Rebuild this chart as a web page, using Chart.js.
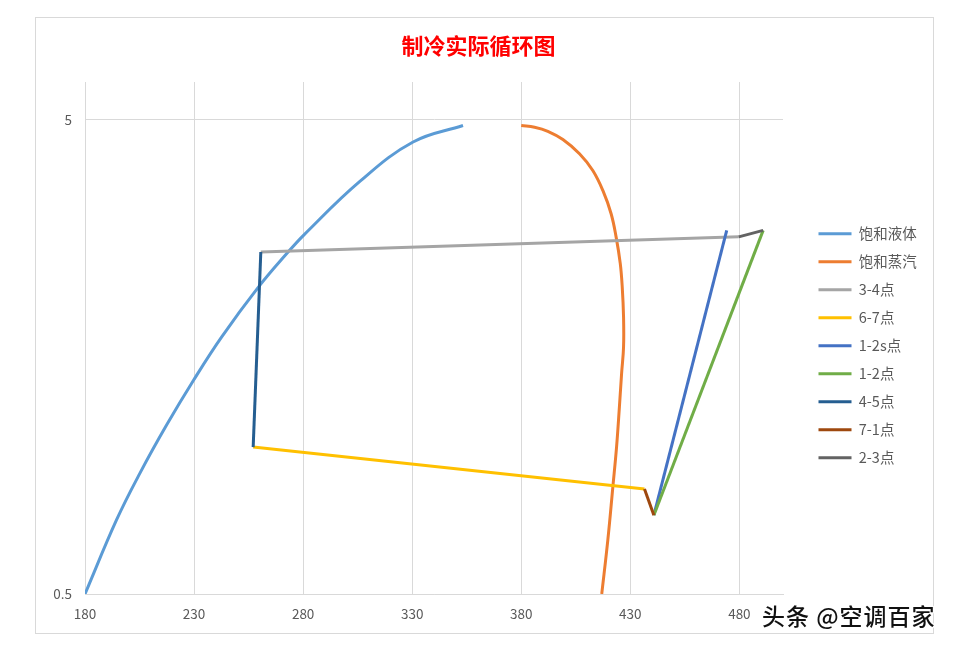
<!DOCTYPE html>
<html>
<head>
<meta charset="utf-8">
<script src="https://cdn.jsdelivr.net/npm/chart.js@4.4.0/dist/chart.umd.min.js"></script>
<style>
  html, body { margin: 0; padding: 0; background: #fff; }
  #wrap { position: relative; width: 957px; height: 647px; }
  #frame { position: absolute; left: 35px; top: 17px; width: 897px; height: 615px; border: 1px solid #d9d9d9; }
  #wm { position: absolute; left: 762px; top: 598px; font: 500 23px "Noto Sans CJK SC", sans-serif; letter-spacing: 1px; color: #111;
        text-shadow: 1px 1px 0 #fff, -1px -1px 0 #fff, 1px -1px 0 #fff, -1px 1px 0 #fff; }
</style>
</head>
<body>
<div id="wrap">
  <div id="frame"></div>
  <canvas id="grafico" width="957" height="647"></canvas>
  <div id="wm">头条 @空调百家</div>
</div>
<script>
// 数据（横轴 h，纵轴 p，对数）
const xTicks = [180, 230, 280, 330, 380, 430, 480];
const yTicks = [0.5, 5];

const liqX = [180, 194.5, 205.2, 217.4, 229.9, 242.6, 259.4, 273.1, 280.4, 306.0, 330.4, 353.3];
const liqY = [0.5, 0.717, 0.899, 1.135, 1.414, 1.739, 2.214, 2.628, 2.858, 3.704, 4.483, 4.857];

const vapX = [380.0, 386.1, 392.2, 399.1, 406.7, 412.8, 417.4, 421.2, 423.5, 425.4, 426.3, 426.9, 426.9, 426.0, 425.0, 423.7, 422.0, 419.7, 416.9];
const vapY = [4.857, 4.817, 4.724, 4.538, 4.235, 3.905, 3.545, 3.166, 2.826, 2.485, 2.218, 1.918, 1.658, 1.457, 1.240, 1.021, 0.841, 0.650, 0.5];

// 循环各点
const p1 = [440.8, 0.733];
const p2s = [474.2, 2.92];
const p2 = [490.9, 2.92];
const p3 = [479.7, 2.83];
const p4 = [260.6, 2.63];
const p5 = [257.1, 1.02];
const p7 = [436.5, 0.832];

const nombres = ['饱和液体', '饱和蒸汽', '3-4点', '6-7点', '1-2s点', '1-2点', '4-5点', '7-1点', '2-3点'];
const colores = ['#5B9BD5', '#ED7D31', '#A5A5A5', '#FFC000', '#4472C4', '#70AD47', '#255E91', '#9E480E', '#636363'];

const pares = (xs, ys) => xs.map((x, i) => ({ x: x, y: ys[i] }));
const seg = (a, b) => [{ x: a[0], y: a[1] }, { x: b[0], y: b[1] }];

const series = [
  pares(liqX, liqY),
  pares(vapX, vapY),
  seg(p3, p4),
  seg(p5, p7),
  seg(p1, p2s),
  seg(p1, p2),
  seg(p4, p5),
  seg(p7, p1),
  seg(p2, p3)
];

const datasets = series.map((d, i) => ({
  label: nombres[i],
  data: d,
  borderColor: colores[i],
  backgroundColor: colores[i],
  borderWidth: 3,
  pointRadius: 0,
  tension: i < 2 ? 0.4 : 0,
  yAxisID: 'y',
  order: series.length - i
}));

// coloca la leyenda a mano
const colocarLeyenda = {
  id: 'colocarLeyenda',
  afterLayout(chart) {
    const lg = chart.legend;
    lg.left = 805;
    lg.top = 213;
    lg.right = lg.left + lg.width;
    lg.bottom = 630;
  }
};

const ctx = document.getElementById('grafico').getContext('2d');

new Chart(ctx, {
  type: 'line',
  data: { datasets: datasets },
  plugins: [colocarLeyenda],
  options: {
    responsive: false,
    animation: false,
    layout: { padding: 0 },
    plugins: {
      title: {
        display: true,
        text: '制冷实际循环图',
        color: '#FF0000',
        font: { family: '"Noto Sans CJK SC", sans-serif', size: 22, weight: 'bold' },
        padding: { top: 32, bottom: 23.6 }
      },
      legend: {
        position: 'chartArea',
        align: 'start',
        reverse: true,
        labels: {
          usePointStyle: true,
          pointStyle: 'line',
          pointStyleWidth: 33,
          color: '#595959',
          padding: 13.5,
          font: { family: '"Noto Sans CJK SC", sans-serif', size: 14.5 }
        }
      },
      tooltip: { enabled: false }
    },
    scales: {
      x: {
        type: 'linear',
        min: 180,
        max: 500,
        afterBuildTicks: s => { s.ticks = xTicks.map(v => ({ value: v })); },
        afterFit: s => { s.height = 53; },
        grid: { color: '#d9d9d9', drawTicks: false },
        border: { color: '#d9d9d9' },
        ticks: {
          color: '#595959',
          padding: 12,
          maxRotation: 0,
          autoSkip: false,
          font: { family: '"Noto Sans CJK SC", sans-serif', size: 13.5 }
        }
      },
      y: {
        type: 'logarithmic',
        position: 'left',
        min: 0.5,
        max: 6,
        afterBuildTicks: s => { s.ticks = yTicks.map(v => ({ value: v })); },
        afterFit: s => { s.width = 85; },
        grid: { color: '#d9d9d9', drawTicks: false },
        border: { color: '#d9d9d9' },
        ticks: {
          color: '#595959',
          padding: 13,
          callback: v => String(v),
          font: { family: '"Noto Sans CJK SC", sans-serif', size: 13.5 }
        }
      },
      y2: {
        type: 'linear',
        position: 'right',
        afterFit: s => { s.width = 174; },
        grid: { display: false },
        border: { display: false },
        ticks: { display: false }
      }
    }
  }
});
</script>
</body>
</html>
